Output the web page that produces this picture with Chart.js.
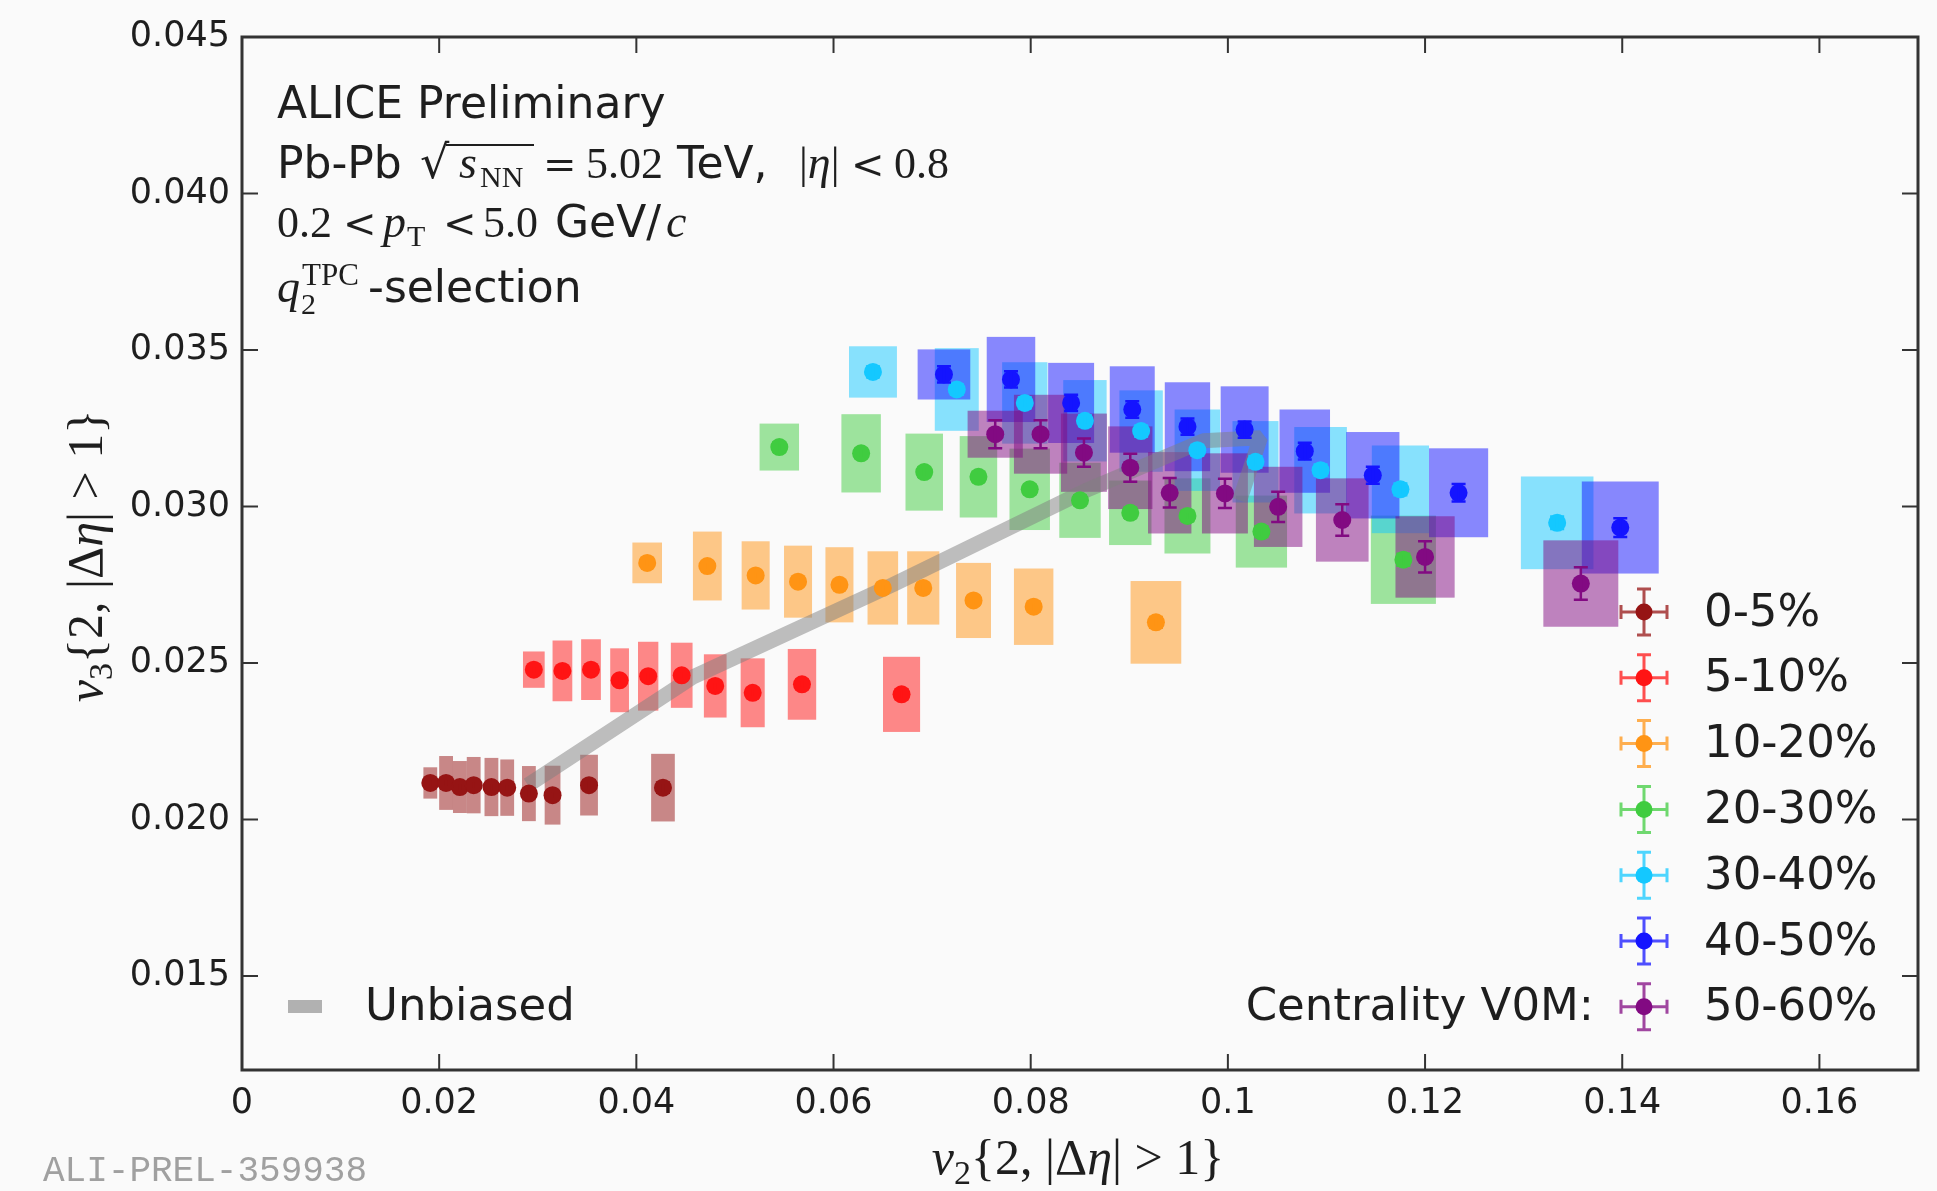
<!DOCTYPE html>
<html>
<head>
<meta charset="utf-8">
<script src="https://cdn.jsdelivr.net/npm/chart.js@4"></script>
<style>
  html, body { margin: 0; padding: 0; background: #fafafa; }
  #wrap { width: 1937px; height: 1191px; }
</style>
</head>
<body>
<div id="wrap"><canvas id="v3v2-chart" width="1937" height="1191"></canvas></div>
<script>
// centrality classes, colours
var names = ['0-5%', '5-10%', '10-20%', '20-30%', '30-40%', '40-50%', '50-60%'];
var colors = ['rgb(150,20,20)', 'rgb(255,20,20)', 'rgb(255,148,20)', 'rgb(64,204,64)', 'rgb(20,200,255)', 'rgb(20,20,255)', 'rgb(130,10,130)'];
var boxColors = ['rgba(150,20,20,0.5)', 'rgba(255,20,20,0.5)', 'rgba(255,148,20,0.5)', 'rgba(64,204,64,0.5)', 'rgba(20,200,255,0.5)', 'rgba(20,20,255,0.5)', 'rgba(130,10,130,0.5)'];

// v2 values (x) per centrality, q2-selection bins
var v2_0_5 = [0.0191, 0.0207, 0.0221, 0.0235, 0.0253, 0.0269, 0.0291, 0.0315, 0.0352, 0.0427];
var v2_5_10 = [0.0296, 0.0325, 0.0354, 0.0383, 0.0412, 0.0446, 0.0480, 0.0518, 0.0568, 0.0669];
var v2_10_20 = [0.0411, 0.0472, 0.0521, 0.0564, 0.0606, 0.0650, 0.0691, 0.0742, 0.0803, 0.0927];
var v2_20_30 = [0.0545, 0.0628, 0.0692, 0.0747, 0.0799, 0.0850, 0.0901, 0.0959, 0.1034, 0.1178];
var v2_30_40 = [0.0640, 0.0725, 0.0794, 0.0855, 0.0912, 0.0969, 0.1028, 0.1094, 0.1175, 0.1334];
var v2_40_50 = [0.0712, 0.0780, 0.0841, 0.0903, 0.0959, 0.1017, 0.1078, 0.1147, 0.1234, 0.1398];
var v2_50_60 = [0.0764, 0.0810, 0.0854, 0.0901, 0.0941, 0.0997, 0.1051, 0.1116, 0.1200, 0.1358];

// v3 values (y)
var v3_0_5 = [0.02117, 0.02117, 0.02104, 0.02110, 0.02104, 0.02102, 0.02083, 0.02078, 0.02110, 0.02102];
var v3_5_10 = [0.02479, 0.02475, 0.02479, 0.02445, 0.02458, 0.02461, 0.02427, 0.02405, 0.02432, 0.02400];
var v3_10_20 = [0.0282, 0.0281, 0.0278, 0.0276, 0.0275, 0.0274, 0.0274, 0.0270, 0.0268, 0.0263];
var v3_20_30 = [0.0319, 0.0317, 0.0311, 0.03095, 0.03055, 0.0302, 0.0298, 0.0297, 0.0292, 0.0283];
var v3_30_40 = [0.0343, 0.03374, 0.03331, 0.03274, 0.03241, 0.0318, 0.03143, 0.03116, 0.03055, 0.02948];
var v3_40_50 = [0.03422, 0.03406, 0.03331, 0.0331, 0.03255, 0.03246, 0.03177, 0.0310, 0.03044, 0.02933];
var v3_50_60 = [0.03231, 0.03231, 0.03172, 0.03124, 0.03044, 0.03042, 0.02999, 0.02957, 0.02839, 0.02754];

// systematic uncertainties on v2 (half width of box)
var sysV2_0_5 = [0.0007, 0.0007, 0.0007, 0.0007, 0.0007, 0.0007, 0.0007, 0.0008, 0.0009, 0.0012];
var sysV2_5_10 = [0.0011, 0.001, 0.001, 0.00095, 0.00103, 0.0011, 0.00115, 0.00122, 0.00144, 0.00188];
var sysV2_10_20 = [0.0015, 0.00146, 0.00142, 0.00142, 0.00142, 0.00155, 0.00163, 0.00177, 0.0020, 0.00257];
var sysV2_20_30 = [0.002, 0.002, 0.0019, 0.0019, 0.00205, 0.0021, 0.00215, 0.00233, 0.0026, 0.0033];
var sysV2_30_40 = [0.00243, 0.00223, 0.0023, 0.0022, 0.0022, 0.0023, 0.00233, 0.00267, 0.0029, 0.00368];
var sysV2_40_50 = [0.00267, 0.00246, 0.00233, 0.00228, 0.0023, 0.00243, 0.00256, 0.0027, 0.003, 0.0039];
var sysV2_50_60 = [0.0028, 0.0027, 0.00233, 0.00225, 0.0022, 0.00233, 0.00246, 0.00267, 0.003, 0.0038];

// systematic uncertainties on v3 (half height of box)
var sysV3_0_5 = [0.0005, 0.00086, 0.00083, 0.0009, 0.00093, 0.0009, 0.00088, 0.00094, 0.00097, 0.00108];
var sysV3_5_10 = [0.00058, 0.00097, 0.00097, 0.00102, 0.0011, 0.00104, 0.00101, 0.0011, 0.00113, 0.0012];
var sysV3_10_20 = [0.00065, 0.0011, 0.00109, 0.00115, 0.0012, 0.00117, 0.00117, 0.0012, 0.00122, 0.00132];
var sysV3_20_30 = [0.00075, 0.00125, 0.00123, 0.0013, 0.0013, 0.0012, 0.00103, 0.0012, 0.00115, 0.00141];
var sysV3_30_40 = [0.00082, 0.00132, 0.0013, 0.0013, 0.0013, 0.0013, 0.0013, 0.00138, 0.0014, 0.00148];
var sysV3_40_50 = [0.0008, 0.00136, 0.00128, 0.00138, 0.00142, 0.00138, 0.00133, 0.00138, 0.00142, 0.00147];
var sysV3_50_60 = [0.00075, 0.00126, 0.00125, 0.00132, 0.0013, 0.00128, 0.00128, 0.00133, 0.0013, 0.00138];

// statistical uncertainties on v3
var statV3_0_5 = [0.00012, 0.00012, 0.00012, 0.00012, 0.00012, 0.00012, 0.00013, 0.00013, 0.00015, 0.00016];
var statV3_5_10 = [0.00012, 0.00012, 0.00012, 0.00012, 0.00012, 0.00013, 0.00013, 0.00014, 0.00015, 0.00016];
var statV3_10_20 = [0.00013, 0.00013, 0.00013, 0.00013, 0.00013, 0.00013, 0.00014, 0.00014, 0.00015, 0.00017];
var statV3_20_30 = [0.00015, 0.00015, 0.00015, 0.00015, 0.00015, 0.00015, 0.00016, 0.00016, 0.00017, 0.00019];
var statV3_30_40 = [0.00017, 0.00017, 0.00017, 0.00017, 0.00017, 0.00017, 0.00018, 0.00018, 0.00019, 0.0002];
var statV3_40_50 = [0.00026, 0.00026, 0.00026, 0.00026, 0.00026, 0.00026, 0.00027, 0.00027, 0.00028, 0.0003];
var statV3_50_60 = [0.00045, 0.00045, 0.00045, 0.00045, 0.00047, 0.00047, 0.00048, 0.0005, 0.0005, 0.00052];

// unbiased (no q2 selection), one point per centrality class
var unbiasedV2 = [0.0290, 0.0457, 0.0660, 0.0855, 0.0975, 0.1033, 0.1012];
var unbiasedV3 = [0.0211, 0.02455, 0.0275, 0.0305, 0.0321, 0.0322, 0.0302];

// axis ticks
var xTicks = [0, 0.02, 0.04, 0.06, 0.08, 0.1, 0.12, 0.14, 0.16];
var xTickLabels = ['0', '0.02', '0.04', '0.06', '0.08', '0.1', '0.12', '0.14', '0.16'];
var yTicks = [0.015, 0.02, 0.025, 0.03, 0.035, 0.04, 0.045];
var yTickLabels = ['0.015', '0.020', '0.025', '0.030', '0.035', '0.040', '0.045'];

var allV2 = [v2_0_5, v2_5_10, v2_10_20, v2_20_30, v2_30_40, v2_40_50, v2_50_60];
var allV3 = [v3_0_5, v3_5_10, v3_10_20, v3_20_30, v3_30_40, v3_40_50, v3_50_60];
var allSysV2 = [sysV2_0_5, sysV2_5_10, sysV2_10_20, sysV2_20_30, sysV2_30_40, sysV2_40_50, sysV2_50_60];
var allSysV3 = [sysV3_0_5, sysV3_5_10, sysV3_10_20, sysV3_20_30, sysV3_30_40, sysV3_40_50, sysV3_50_60];
var allStatV3 = [statV3_0_5, statV3_5_10, statV3_10_20, statV3_20_30, statV3_30_40, statV3_40_50, statV3_50_60];

var SANS = '"DejaVu Sans", sans-serif';
var SERIF = '"Liberation Serif", "DejaVu Serif", serif';
var OPS = '"DejaVu Serif", serif';
var TEXT = '#1e1e1e';

var datasets = names.map(function (name, i) {
    return {
        type: 'scatter',
        label: name,
        data: allV2[i].map(function (x, j) {
            return { x: x, y: allV3[i][j], sx: allSysV2[i][j], sy: allSysV3[i][j], ey: allStatV3[i][j] };
        }),
        pointRadius: 9,
        pointBackgroundColor: colors[i],
        pointBorderWidth: 0,
        showLine: false,
        order: 0
    };
});
datasets.push({
    type: 'line',
    label: 'Unbiased',
    data: unbiasedV2.map(function (x, j) { return { x: x, y: unbiasedV3[j] }; }),
    borderColor: 'rgba(128,128,128,0.5)',
    borderWidth: 15,
    borderJoinStyle: 'bevel',
    pointRadius: 0,
    tension: 0,
    order: 1
});

// draw rich text made of parts with their own font, x position and baseline shift
function rich(ctx, x, y, parts, measureOnly) {
    var cx = x;
    parts.forEach(function (p) {
        ctx.font = p.f;
        if (p.at !== undefined) cx = p.at;
        if (p.gap) cx += p.gap;
        var w = ctx.measureText(p.t).width;
        if (!measureOnly) ctx.fillText(p.t, cx, y + (p.dy || 0));
        cx += w;
    });
    return cx - x;
}

var boxesPlugin = {
    id: 'sysBoxes',
    beforeDatasetsDraw: function (chart) {
        var ctx = chart.ctx, xs = chart.scales.x, ys = chart.scales.y, a = chart.chartArea;
        ctx.save();
        ctx.beginPath();
        ctx.rect(a.left, a.top, a.right - a.left, a.bottom - a.top);
        ctx.clip();
        names.forEach(function (n, i) {
            ctx.fillStyle = boxColors[i];
            chart.data.datasets[i].data.forEach(function (p) {
                var x1 = xs.getPixelForValue(p.x - p.sx), x2 = xs.getPixelForValue(p.x + p.sx);
                var y1 = ys.getPixelForValue(p.y + p.sy), y2 = ys.getPixelForValue(p.y - p.sy);
                ctx.fillRect(x1, y1, x2 - x1, y2 - y1);
            });
        });
        ctx.restore();
    },
    afterDatasetsDraw: function (chart) {
        // statistical error bars
        var ctx = chart.ctx, xs = chart.scales.x, ys = chart.scales.y;
        ctx.save();
        ctx.lineWidth = 2.5;
        names.forEach(function (n, i) {
            ctx.strokeStyle = colors[i];
            chart.data.datasets[i].data.forEach(function (p) {
                var px = xs.getPixelForValue(p.x);
                var y1 = ys.getPixelForValue(p.y + p.ey), y2 = ys.getPixelForValue(p.y - p.ey);
                ctx.beginPath();
                ctx.moveTo(px, y1); ctx.lineTo(px, y2);
                ctx.moveTo(px - 7, y1); ctx.lineTo(px + 7, y1);
                ctx.moveTo(px - 7, y2); ctx.lineTo(px + 7, y2);
                ctx.stroke();
            });
        });
        ctx.restore();
    }
};

var framePlugin = {
    id: 'frame',
    afterDraw: function (chart) {
        var ctx = chart.ctx, xs = chart.scales.x, ys = chart.scales.y, a = chart.chartArea;
        var tl = 16;
        ctx.save();
        ctx.strokeStyle = '#333';
        ctx.lineWidth = 3;
        ctx.strokeRect(a.left, a.top, a.right - a.left, a.bottom - a.top);
        ctx.lineWidth = 2;
        ctx.beginPath();
        xTicks.forEach(function (v) {
            var px = xs.getPixelForValue(v);
            ctx.moveTo(px, a.bottom); ctx.lineTo(px, a.bottom - tl);
            ctx.moveTo(px, a.top); ctx.lineTo(px, a.top + tl);
        });
        yTicks.forEach(function (v) {
            var py = ys.getPixelForValue(v);
            ctx.moveTo(a.left, py); ctx.lineTo(a.left + tl, py);
            ctx.moveTo(a.right, py); ctx.lineTo(a.right - tl, py);
        });
        ctx.stroke();

        // legend for centrality classes
        var lx = 1644, ly = 612, step = 65.8;
        ctx.textBaseline = 'middle';
        names.forEach(function (n, i) {
            var cy = ly + i * step;
            ctx.save();
            ctx.globalAlpha = 0.75;
            ctx.strokeStyle = colors[i];
            ctx.lineWidth = 3;
            ctx.beginPath();
            ctx.moveTo(lx - 23, cy); ctx.lineTo(lx + 23, cy);
            ctx.moveTo(lx, cy - 23); ctx.lineTo(lx, cy + 23);
            ctx.moveTo(lx - 23, cy - 7); ctx.lineTo(lx - 23, cy + 7);
            ctx.moveTo(lx + 23, cy - 7); ctx.lineTo(lx + 23, cy + 7);
            ctx.moveTo(lx - 7, cy - 23); ctx.lineTo(lx + 7, cy - 23);
            ctx.moveTo(lx - 7, cy + 23); ctx.lineTo(lx + 7, cy + 23);
            ctx.stroke();
            ctx.restore();
            ctx.fillStyle = colors[i];
            ctx.beginPath();
            ctx.arc(lx, cy, 8.5, 0, Math.PI * 2);
            ctx.fill();
            ctx.fillStyle = TEXT;
            ctx.font = '45px ' + SANS;
            ctx.textAlign = 'left';
            ctx.fillText(n, 1704, cy + 2);
        });
        ctx.textAlign = 'right';
        ctx.fillText('Centrality V0M:', 1594, ly + 6 * step + 2);

        // unbiased legend entry
        ctx.fillStyle = 'rgba(128,128,128,0.6)';
        ctx.fillRect(288, 1000, 34, 13);
        ctx.fillStyle = TEXT;
        ctx.textAlign = 'left';
        ctx.fillText('Unbiased', 365, 1008);

        // header text
        ctx.textBaseline = 'alphabetic';
        var S = '44px ' + SANS, M = '44px ' + SERIF, MI = 'italic 46px ' + SERIF;
        var SUB = '30px ' + SERIF, OP = '40px ' + OPS;
        rich(ctx, 277, 118, [{ t: 'ALICE Preliminary', f: S }]);
        rich(ctx, 277, 178, [
            { t: 'Pb-Pb', f: S },
            { t: '\u221A', f: '46px ' + OPS, at: 420 },
            { t: 's', f: MI, at: 459 },
            { t: 'NN', f: SUB, at: 480, dy: 9 },
            { t: '=', f: OP, at: 543 },
            { t: '5.02', f: M, at: 586 },
            { t: 'TeV,', f: S, at: 677 },
            { t: '|', f: M, at: 799 },
            { t: '\u03B7', f: MI },
            { t: '|', f: M },
            { t: '<', f: OP, at: 851 },
            { t: '0.8', f: M, at: 894 }
        ]);
        // overline of the square root
        ctx.save();
        ctx.strokeStyle = TEXT;
        ctx.lineWidth = 2;
        ctx.beginPath();
        ctx.moveTo(446, 145);
        ctx.lineTo(534, 145);
        ctx.stroke();
        ctx.restore();
        rich(ctx, 277, 237, [
            { t: '0.2', f: M },
            { t: '<', f: OP, at: 343 },
            { t: 'p', f: MI, at: 383 },
            { t: 'T', f: SUB, at: 407, dy: 9 },
            { t: '<', f: OP, at: 443 },
            { t: '5.0', f: M, at: 483 },
            { t: 'GeV/', f: S, at: 555 },
            { t: 'c', f: MI, at: 666 }
        ]);
        rich(ctx, 277, 302, [
            { t: 'q', f: MI },
            { t: '2', f: SUB, at: 301, dy: 12 },
            { t: 'TPC', f: '31px ' + SERIF, at: 302, dy: -17 },
            { t: '-selection', f: S, at: 368 }
        ]);

        // x axis title
        var T = '50px ' + SERIF, TI = 'italic 50px ' + SERIF, TS = '34px ' + SERIF;
        var xt = [
            { t: 'v', f: TI }, { t: '2', f: TS, dy: 10 },
            { t: '{2, |\u0394', f: T }, { t: '\u03B7', f: TI }, { t: '| > 1}', f: T }
        ];
        ctx.fillStyle = TEXT;
        var w = rich(ctx, 0, 0, xt, true);
        rich(ctx, 1078 - w / 2, 1174, xt);

        // y axis title
        var yt = [
            { t: 'v', f: TI }, { t: '3', f: TS, dy: 10 },
            { t: '{2, |\u0394', f: T }, { t: '\u03B7', f: TI }, { t: '| > 1}', f: T }
        ];
        ctx.save();
        ctx.translate(102, 556);
        ctx.rotate(-Math.PI / 2);
        w = rich(ctx, 0, 0, yt, true);
        rich(ctx, -w / 2, 0, yt);
        ctx.restore();

        // preliminary id
        ctx.fillStyle = '#a0a0a0';
        ctx.font = '36px "Liberation Mono", monospace';
        ctx.fillText('ALI-PREL-359938', 43, 1181);
        ctx.restore();
    }
};

var ctx = document.getElementById('v3v2-chart').getContext('2d');
var chart = new Chart(ctx, {
    type: 'scatter',
    data: { datasets: datasets },
    plugins: [boxesPlugin, framePlugin],
    options: {
        responsive: false,
        animation: false,
        events: [],
        layout: { padding: { left: 0, top: 37, right: 19, bottom: 0 } },
        plugins: {
            legend: { display: false },
            tooltip: { enabled: false }
        },
        scales: {
            x: {
                type: 'linear',
                min: 0,
                max: 0.17,
                afterBuildTicks: function (s) { s.ticks = xTicks.map(function (v) { return { value: v }; }); },
                afterFit: function (s) { s.height = 121; },
                grid: { display: false, drawTicks: false },
                border: { display: false },
                ticks: {
                    autoSkip: false,
                    maxRotation: 0,
                    padding: 13,
                    color: TEXT,
                    font: { family: SANS, size: 35 },
                    callback: function (v, i) { return xTickLabels[i]; }
                }
            },
            y: {
                type: 'linear',
                min: 0.012,
                max: 0.045,
                afterBuildTicks: function (s) { s.ticks = yTicks.map(function (v) { return { value: v }; }); },
                afterFit: function (s) { s.width = 242; },
                grid: { display: false, drawTicks: false },
                border: { display: false },
                ticks: {
                    autoSkip: false,
                    padding: 12,
                    color: TEXT,
                    font: { family: SANS, size: 35 },
                    callback: function (v, i) { return yTickLabels[i]; }
                }
            }
        }
    }
});
</script>
</body>
</html>
